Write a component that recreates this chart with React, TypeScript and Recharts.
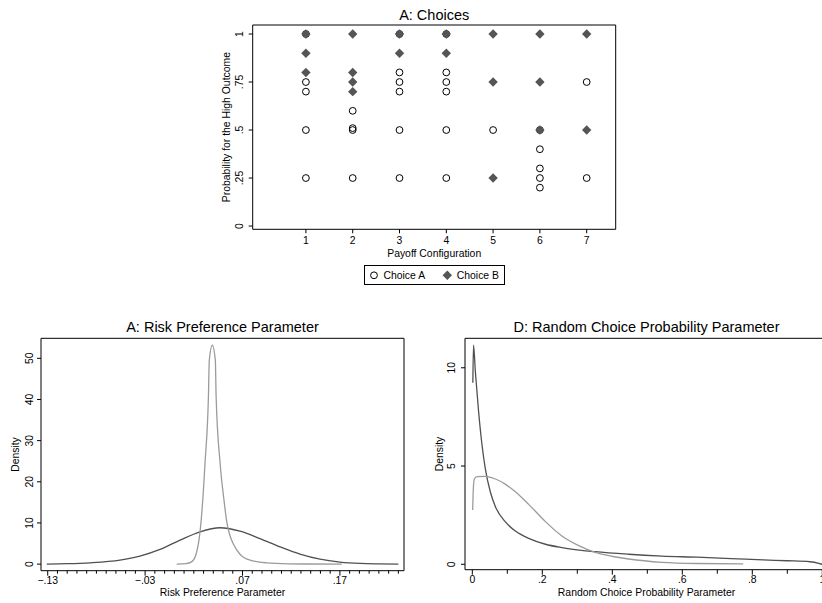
import React from 'react';
import { ScatterChart, Scatter, LineChart, Line, XAxis, YAxis, ReferenceArea, Legend } from 'recharts';

const FONT = '"Liberation Sans", Arial, Helvetica, sans-serif';
const INK = '#000';
const DIAMOND_FILL = '#555555';
const DARK = '#505050';
const LIGHT = '#9b9b9b';
const TICK_FONT = 10.4;

// Panel A: choices by payoff configuration
const choiceAConfig = [1, 1, 1, 1, 1, 2, 2, 2, 2, 3, 3, 3, 3, 3, 3, 4, 4, 4, 4, 4, 4, 5, 6, 6, 6, 6, 6, 7, 7];
const choiceAProb = [1, 0.75, 0.7, 0.5, 0.25, 0.6, 0.51, 0.5, 0.25, 1, 0.8, 0.75, 0.7, 0.5, 0.25, 1, 0.8, 0.75, 0.7, 0.5, 0.25, 0.5, 0.5, 0.4, 0.3, 0.25, 0.2, 0.75, 0.25];
const choiceBConfig = [1, 1, 1, 2, 2, 2, 2, 3, 3, 4, 4, 5, 5, 5, 6, 6, 6, 7, 7];
const choiceBProb = [1, 0.9, 0.8, 1, 0.8, 0.75, 0.7, 1, 0.9, 1, 0.9, 1, 0.75, 0.25, 1, 0.75, 0.5, 1, 0.5];

const configTicks = [1, 2, 3, 4, 5, 6, 7];
const configLabels = ['1', '2', '3', '4', '5', '6', '7'];
const probTicks = [0, 0.25, 0.5, 0.75, 1];
const probLabels = ['0', '.25', '.5', '.75', '1'];

// Risk preference parameter densities
const riskWideX = [-0.131, -0.11, -0.0866, -0.0558, -0.0353, -0.0147, 0.0058, 0.0264, 0.0469, 0.0674, 0.0879, 0.1085, 0.129, 0.1496, 0.17, 0.1906, 0.21, 0.23];
const riskWideY = [0.02, 0.1, 0.32, 0.97, 1.94, 3.56, 5.83, 7.86, 8.83, 8.0, 6.2, 4.2, 2.43, 1.2, 0.5, 0.16, 0.05, 0.01];
const riskNarrowX = [0.0024, 0.012, 0.018, 0.023, 0.0264, 0.0288, 0.0315, 0.035, 0.0359, 0.039, 0.0421, 0.0429, 0.047, 0.051, 0.054, 0.057, 0.0606, 0.0674, 0.0777, 0.0945, 0.118, 0.14, 0.172];
const riskNarrowY = [0.0, 0.1, 0.6, 3.0, 7.9, 14.3, 24.5, 40.7, 49.5, 53.2, 49.5, 40.7, 24.5, 15.5, 10.0, 7.0, 4.9, 2.4, 0.97, 0.32, 0.08, 0.03, 0.01];

const riskMajorTicks = [-0.13, -0.03, 0.07, 0.17];
const riskMajorLabels = ['\u2212.13', '\u2212.03', '.07', '.17'];
const riskMinorTicks = [-0.12, -0.11, -0.1, -0.09, -0.08, -0.07, -0.06, -0.05, -0.04, -0.02, -0.01, 0, 0.01, 0.02, 0.03, 0.04, 0.05, 0.06, 0.08, 0.09, 0.1, 0.11, 0.12, 0.13, 0.14, 0.15, 0.16, 0.18, 0.19, 0.2, 0.21, 0.22, 0.23];
const riskDensityTicks = [0, 10, 20, 30, 40, 50];
const riskDensityLabels = ['0', '10', '20', '30', '40', '50'];

// Random choice probability parameter densities
const randDarkX = [0.0015, 0.0034, 0.0087, 0.018, 0.0277, 0.037, 0.0514, 0.066, 0.094, 0.123, 0.161, 0.209, 0.256, 0.351, 0.447, 0.542, 0.641, 0.74, 0.831, 0.9, 0.965, 0.99, 1.0];
const randDarkY = [9.24, 11.15, 9.8, 7.76, 6.07, 4.88, 3.69, 2.93, 2.17, 1.69, 1.32, 1.02, 0.85, 0.64, 0.51, 0.42, 0.36, 0.29, 0.22, 0.18, 0.13, 0.05, 0.0];
const randLightX = [0.001, 0.003, 0.0058, 0.0134, 0.037, 0.066, 0.094, 0.123, 0.161, 0.209, 0.256, 0.304, 0.351, 0.399, 0.447, 0.542, 0.641, 0.774];
const randLightY = [2.76, 3.87, 4.34, 4.46, 4.47, 4.34, 4.08, 3.69, 3.05, 2.17, 1.44, 0.95, 0.61, 0.41, 0.27, 0.1, 0.04, 0.02];

const randMajorTicks = [0, 0.2, 0.4, 0.6, 0.8, 1];
const randMajorLabels = ['0', '.2', '.4', '.6', '.8', '1'];
const randMinorTicks = [0.1, 0.3, 0.5, 0.7, 0.9];
const randDensityTicks = [0, 5, 10];
const randDensityLabels = ['0', '5', '10'];

const zipXY = (xs: number[], ys: number[]) => xs.map((x, i) => ({ x, d: ys[i] }));
const zipChoice = (cs: number[], ps: number[]) => cs.map((config, i) => ({ config, prob: ps[i] }));

const choiceA = zipChoice(choiceAConfig, choiceAProb);
const choiceB = zipChoice(choiceBConfig, choiceBProb);
const riskWide = zipXY(riskWideX, riskWideY);
const riskNarrow = zipXY(riskNarrowX, riskNarrowY);
const randDark = zipXY(randDarkX, randDarkY);
const randLight = zipXY(randLightX, randLightY);

const findTick = (ticks: number[], v: number) => ticks.findIndex((t) => Math.abs(t - v) < 1e-6);

// tick renderers: axis lines are drawn by hand so majors and minors can differ in length
function bottomTick(majors: number[], labels: string[], gap: number, majorLen = 5, minorLen = 3) {
  return (props: any) => {
    const { x, y, payload } = props;
    const idx = findTick(majors, payload.value);
    return (
      <g>
        <line x1={x} y1={y} x2={x} y2={y + (idx >= 0 ? majorLen : minorLen)} stroke={INK} strokeWidth={1} />
        {idx >= 0 && (
          <text x={x} y={y + gap} textAnchor="middle" fontSize={TICK_FONT} fill={INK}>
            {labels[idx]}
          </text>
        )}
      </g>
    );
  };
}

function leftTick(majors: number[], labels: string[], gap: number, len = 4) {
  return (props: any) => {
    const { x, y, payload } = props;
    const idx = findTick(majors, payload.value);
    const tx = x - gap;
    return (
      <g>
        <line x1={x - len} y1={y} x2={x} y2={y} stroke={INK} strokeWidth={1} />
        {idx >= 0 && (
          <text x={tx} y={y} transform={`rotate(-90 ${tx} ${y})`} textAnchor="middle" fontSize={TICK_FONT} fill={INK}>
            {labels[idx]}
          </text>
        )}
      </g>
    );
  };
}

const xTitle = (text: string, dy: number) => (props: any) => {
  const vb = props.viewBox || {};
  return (
    <text x={vb.x + vb.width / 2} y={vb.y + dy} textAnchor="middle" fontSize={TICK_FONT} fill={INK}>
      {text}
    </text>
  );
};

const yTitle = (text: string, dx: number) => (props: any) => {
  const vb = props.viewBox || {};
  const tx = vb.x + vb.width - dx;
  const ty = vb.y + vb.height / 2;
  return (
    <text x={tx} y={ty} transform={`rotate(-90 ${tx} ${ty})`} textAnchor="middle" fontSize={TICK_FONT} fill={INK}>
      {text}
    </text>
  );
};

const HollowCircle = (p: any) => <circle cx={p.cx} cy={p.cy} r={3.4} fill="none" stroke={INK} strokeWidth={1} />;

const Diamond = (p: any) => {
  const r = 4.7;
  return (
    <polygon
      points={`${p.cx},${p.cy - r} ${p.cx + r},${p.cy} ${p.cx},${p.cy + r} ${p.cx - r},${p.cy}`}
      fill={DIAMOND_FILL}
    />
  );
};

function ChoiceLegend(props: any) {
  const items = props.payload || [];
  return (
    <svg width={141} height={20} style={{ display: 'block' }}>
      <rect x={0.5} y={0.5} width={140} height={19} fill="#fff" stroke={INK} />
      {items.map((entry: any, i: number) => {
        const cx = 10 + i * 73.3;
        const cy = 10.3;
        return (
          <g key={entry.value}>
            {entry.type === 'diamond' ? <Diamond cx={cx} cy={cy} /> : <HollowCircle cx={cx} cy={cy} />}
            <text x={cx + 9.5} y={14} fontSize={TICK_FONT} fill={INK}>
              {entry.value}
            </text>
          </g>
        );
      })}
    </svg>
  );
}

function ChoicesPanel() {
  const xDomain: [number, number] = [-0.137, 7.62];
  const yDomain: [number, number] = [-0.017, 1.047];
  return (
    <div style={{ position: 'absolute', left: 200, top: 0 }}>
      <ScatterChart width={440} height={290} margin={{ top: 25, right: 24.3, bottom: 0, left: 0 }}>
        <XAxis
          type="number"
          dataKey="config"
          domain={xDomain}
          allowDataOverflow
          ticks={configTicks}
          interval={0}
          axisLine={false}
          tickLine={false}
          tickSize={0}
          tickMargin={0}
          height={60.7}
          tick={bottomTick(configTicks, configLabels, 15, 4, 4)}
          label={{ content: xTitle('Payoff Configuration', 27.4) }}
        />
        <YAxis
          type="number"
          dataKey="prob"
          domain={yDomain}
          allowDataOverflow
          ticks={probTicks}
          interval={0}
          axisLine={false}
          tickLine={false}
          tickSize={0}
          tickMargin={0}
          width={52.7}
          tick={leftTick(probTicks, probLabels, 10)}
          label={{ content: yTitle('Probability for the High Outcome', 23) }}
        />
        <ReferenceArea x1={xDomain[0]} x2={xDomain[1]} y1={yDomain[0]} y2={yDomain[1]} fill="none" stroke={INK} strokeWidth={1} ifOverflow="visible" />
        <Scatter name="Choice A" data={choiceA} legendType="circle" fill={INK} shape={HollowCircle} isAnimationActive={false} />
        <Scatter name="Choice B" data={choiceB} legendType="diamond" fill={DIAMOND_FILL} shape={Diamond} isAnimationActive={false} />
        <Legend
          layout="horizontal"
          verticalAlign="middle"
          align="center"
          content={ChoiceLegend}
          wrapperStyle={{ left: 164, top: 265, width: 141, height: 20 }}
        />
      </ScatterChart>
    </div>
  );
}

function RiskPanel() {
  const xDomain: [number, number] = [-0.1369, 0.2358];
  const yDomain: [number, number] = [-1.6, 54.86];
  return (
    <div style={{ position: 'absolute', left: 0, top: 300 }}>
      <LineChart width={420} height={303} margin={{ top: 38.3, right: 16, bottom: 0, left: 0 }}>
        <XAxis
          type="number"
          dataKey="x"
          domain={xDomain}
          allowDataOverflow
          ticks={[...riskMajorTicks, ...riskMinorTicks].sort((a, b) => a - b)}
          interval={0}
          axisLine={false}
          tickLine={false}
          tickSize={0}
          tickMargin={0}
          height={32.3}
          tick={bottomTick(riskMajorTicks, riskMajorLabels, 13)}
          label={{ content: xTitle('Risk Preference Parameter', 25.3) }}
        />
        <YAxis
          type="number"
          domain={yDomain}
          allowDataOverflow
          ticks={riskDensityTicks}
          interval={0}
          axisLine={false}
          tickLine={false}
          tickSize={0}
          tickMargin={0}
          width={41}
          tick={leftTick(riskDensityTicks, riskDensityLabels, 7.7)}
          label={{ content: yTitle('Density', 21.7) }}
        />
        <ReferenceArea x1={xDomain[0]} x2={xDomain[1]} y1={yDomain[0]} y2={yDomain[1]} fill="none" stroke={INK} strokeWidth={1} ifOverflow="visible" />
        <Line data={riskWide} dataKey="d" type="monotone" stroke={DARK} strokeWidth={1.3} dot={false} isAnimationActive={false} />
        <Line data={riskNarrow} dataKey="d" type="monotone" stroke={LIGHT} strokeWidth={1.3} dot={false} isAnimationActive={false} />
      </LineChart>
    </div>
  );
}

function RandomChoicePanel() {
  const xDomain: [number, number] = [-0.0209, 1.0163];
  const yDomain: [number, number] = [-0.275, 11.5];
  return (
    <div style={{ position: 'absolute', left: 420, top: 300 }}>
      <LineChart width={422} height={303} margin={{ top: 38.3, right: 14, bottom: 0, left: 0 }}>
        <XAxis
          type="number"
          dataKey="x"
          domain={xDomain}
          allowDataOverflow
          ticks={[...randMajorTicks, ...randMinorTicks].sort((a, b) => a - b)}
          interval={0}
          axisLine={false}
          tickLine={false}
          tickSize={0}
          tickMargin={0}
          height={33.3}
          tick={bottomTick(randMajorTicks, randMajorLabels, 13.6, 5, 4)}
          label={{ content: xTitle('Random Choice Probability Parameter', 26.3) }}
        />
        <YAxis
          type="number"
          domain={yDomain}
          allowDataOverflow
          ticks={randDensityTicks}
          interval={0}
          axisLine={false}
          tickLine={false}
          tickSize={0}
          tickMargin={0}
          width={45}
          tick={leftTick(randDensityTicks, randDensityLabels, 10)}
          label={{ content: yTitle('Density', 22) }}
        />
        <ReferenceArea x1={xDomain[0]} x2={xDomain[1]} y1={yDomain[0]} y2={yDomain[1]} fill="none" stroke={INK} strokeWidth={1} ifOverflow="visible" />
        <Line data={randDark} dataKey="d" type="monotone" stroke={DARK} strokeWidth={1.3} dot={false} isAnimationActive={false} />
        <Line data={randLight} dataKey="d" type="monotone" stroke={LIGHT} strokeWidth={1.3} dot={false} isAnimationActive={false} />
      </LineChart>
    </div>
  );
}

export default function App() {
  return (
    <div
      style={{
        position: 'absolute',
        left: 0,
        top: 0,
        width: 822,
        height: 603,
        overflow: 'hidden',
        background: '#fff',
        fontFamily: FONT,
      }}
    >
      <ChoicesPanel />
      <RiskPanel />
      <RandomChoicePanel />
      <svg width={822} height={603} style={{ position: 'absolute', left: 0, top: 0, pointerEvents: 'none' }}>
        <text x={434.2} y={20} textAnchor="middle" fontSize={14.5} fill={INK}>A: Choices</text>
        <text x={222.5} y={331.7} textAnchor="middle" fontSize={14.5} fill={INK}>A: Risk Preference Parameter</text>
        <text x={646.5} y={331.7} textAnchor="middle" fontSize={14.5} fill={INK}>D: Random Choice Probability Parameter</text>
      </svg>
    </div>
  );
}
